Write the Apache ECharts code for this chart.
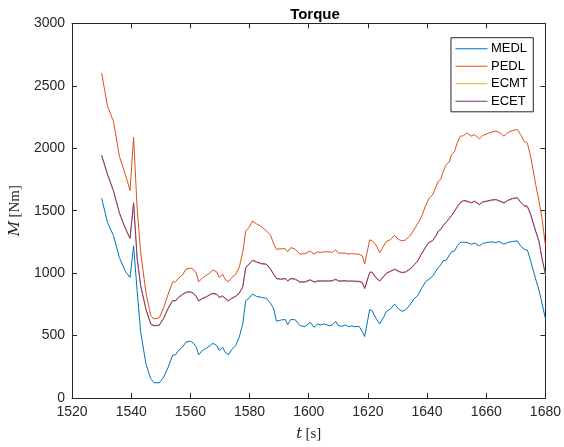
<!DOCTYPE html>
<html><head><meta charset="utf-8">
<script src="https://cdn.jsdelivr.net/npm/echarts@6/dist/echarts.min.js"></script>
<style>html,body{margin:0;padding:0;background:#fff}#c{width:564px;height:447px}</style>
</head><body><div id="c"></div>
<script>
const time = [1530,1532,1534,1536,1538,1539.6,1540.8,1542,1543.2,1545,1546.6,1547.7,1549.5,1551,1552.5,1554,1555,1556,1557.3,1558.5,1560,1561,1562,1562.8,1564,1565.5,1566.7,1567.6,1568.9,1569.8,1570.9,1571.7,1572.8,1574,1575.3,1576.5,1577.7,1578.7,1579.8,1581,1582.3,1584,1585.7,1587.1,1588.2,1589.1,1590.7,1592.1,1592.9,1594,1595.5,1597,1598.7,1600.5,1601.8,1603,1604,1605.2,1606.9,1608,1609.1,1610,1611.2,1612.3,1613.4,1614.5,1615.7,1617,1618.1,1618.9,1620.6,1621.4,1622.7,1624,1625.3,1626.2,1627.6,1629,1630.2,1631.5,1632.7,1634.2,1635.5,1636.8,1638,1639.5,1640.7,1641.8,1643,1643.8,1644.6,1645.4,1646.5,1647.5,1648.3,1649.3,1650.2,1651.2,1652.3,1653.5,1655,1656,1657.7,1658.8,1660.2,1661.6,1663.2,1664.3,1666,1667.2,1668.8,1670.5,1671.6,1672.8,1673.9,1675,1676.7,1677.8,1678.9,1680];
const medl = [1600,1404,1300,1125,1015,965,1218,860,527,270,154,122,122,168,247,343,346,380,407,447,455,440,407,346,380,399,420,438,420,380,407,367,346,388,420,487,593,779,798,832,814,806,798,758,713,614,625,628,587,630,625,580,571,606,566,593,585,593,579,585,614,579,574,585,571,577,571,574,531,492,707,700,639,593,646,691,713,752,718,694,705,745,792,819,872,930,952,973,1018,1045,1064,1098,1104,1144,1170,1178,1218,1245,1248,1245,1231,1240,1218,1237,1245,1250,1245,1253,1231,1245,1253,1258,1218,1191,1184,1098,952,866,752,635];
const pedl = [2600,2335,2215,1936,1790,1662,2088,1520,1165,840,659,633,643,726,832,928,930,960,984,1032,1040,1030,1000,930,960,984,1005,1024,1010,965,992,952,930,965,990,1045,1165,1337,1364,1417,1395,1372,1337,1303,1231,1191,1195,1195,1170,1205,1190,1152,1155,1178,1152,1170,1165,1170,1170,1165,1186,1160,1160,1160,1152,1157,1152,1152,1138,1072,1266,1260,1225,1165,1218,1252,1268,1303,1271,1258,1265,1298,1345,1395,1444,1540,1600,1625,1690,1736,1750,1810,1870,1890,1950,1976,2043,2096,2100,2123,2096,2109,2075,2101,2115,2128,2136,2128,2096,2123,2141,2149,2110,2055,2040,1936,1710,1580,1431,1218];
const ecmt = [1940,1785,1655,1479,1355,1274,1558,1115,894,705,588,575,580,635,715,775,775,801,825,843,846,835,809,774,793,807,825,833,827,801,814,795,774,795,810,835,885,1040,1067,1099,1086,1072,1067,1027,985,953,947,953,933,953,947,925,925,942,925,933,933,933,933,935,947,933,933,935,931,933,930,930,920,873,1000,1005,960,933,968,995,1010,1027,1013,1000,1005,1027,1060,1093,1145,1205,1243,1255,1295,1332,1346,1375,1405,1435,1458,1492,1527,1560,1577,1572,1559,1572,1545,1566,1572,1580,1585,1575,1559,1577,1593,1599,1565,1535,1530,1466,1332,1253,1107,987];
const ecet = [1945,1790,1660,1484,1360,1279,1564,1120,899,710,593,580,585,640,720,780,780,806,830,848,851,840,814,779,798,812,830,838,832,806,819,800,779,800,815,840,890,1045,1072,1104,1091,1077,1072,1032,990,958,952,958,938,958,952,930,930,947,930,938,938,938,938,940,952,938,938,940,936,938,935,935,925,878,1005,1010,965,938,973,1000,1015,1032,1018,1005,1010,1032,1065,1098,1150,1210,1248,1260,1300,1337,1351,1380,1410,1440,1463,1497,1532,1565,1582,1577,1564,1577,1550,1571,1577,1585,1590,1580,1564,1582,1598,1604,1570,1540,1535,1471,1337,1258,1112,992];
const names = ['MEDL','PEDL','ECMT','ECET'];
const colors = ['#0072BD','#D95319','#EDB120','#7E2F8E'];
const xTicks = [1520,1540,1560,1580,1600,1620,1640,1660,1680];
const yTicks = [0,500,1000,1500,2000,2500,3000];

const vals = [medl, pedl, ecmt, ecet];
const axisCol = '#262626';
const font = '"Liberation Sans", Arial, sans-serif';
const chart = echarts.init(document.getElementById('c'));
const baseAxis = {
  axisLine: {show: true, onZero: false, lineStyle: {color: axisCol, width: 1}},
  axisTick: {show: true, inside: true, length: 5, lineStyle: {color: axisCol}},
  splitLine: {show: false}
};
const fmt = v => String(v);
const nameRich = {
  i: {fontFamily: '"DejaVu Serif","Liberation Serif",serif', fontStyle: 'italic', fontSize: 15, color: axisCol},
  n: {fontFamily: '"Liberation Serif",serif', fontStyle: 'normal', fontSize: 15, color: axisCol}
};
chart.setOption({
  animation: false,
  backgroundColor: '#fff',
  title: {text: 'Torque', left: 310, top: 2, textAlign: 'center',
    textStyle: {fontFamily: font, fontSize: 15, fontWeight: 'bold', color: '#000'}},
  legend: {
    orient: 'vertical', right: 30.7, top: 37.7,
    data: names.map((n, k) => ({name: n, itemStyle: {color: colors[k], borderWidth: 0}})),
    backgroundColor: '#fff', borderColor: axisCol, borderWidth: 1,
    padding: [4.6, 5.5, 4, 4.5], itemGap: 4.5, itemWidth: 32, itemHeight: 14,
    icon: 'path://M0,7 L32,7 L32,8 L0,8 Z',
    textStyle: {fontFamily: font, fontSize: 13, color: '#000', padding: [0,0,0,-1.5]}
  },
  grid: {left: 70.7, right: 15.7, top: 23.3, bottom: 47.7},
  xAxis: [
    Object.assign({}, baseAxis, {type: 'value', min: 1520, max: 1680, interval: 20,
      name: '{i|t} {n|[s]}', nameLocation: 'middle', nameGap: 29,
      nameTextStyle: {rich: nameRich},
      axisLabel: {fontFamily: font, fontSize: 14, color: axisCol, margin: 7, formatter: fmt}}),
    Object.assign({}, baseAxis, {type: 'value', min: 1520, max: 1680, interval: 20, position: 'top',
      axisLabel: {show: false}})
  ],
  yAxis: [
    Object.assign({}, baseAxis, {type: 'value', min: 0, max: 3000, interval: 500,
      name: '{i|M} {n|[Nm]}', nameLocation: 'middle', nameGap: 41, nameRotate: 90,
      nameTextStyle: {rich: nameRich},
      axisLabel: {fontFamily: font, fontSize: 14, color: axisCol, margin: 7, formatter: fmt}}),
    Object.assign({}, baseAxis, {type: 'value', min: 0, max: 3000, interval: 500, position: 'right',
      axisLabel: {show: false}})
  ],
  series: names.map((n, k) => ({
    name: n, type: 'line', showSymbol: false, symbol: 'none',
    color: colors[k],
    itemStyle: {color: colors[k]},
    lineStyle: {width: 1, color: colors[k]},
    data: time.map((t, i) => [t, vals[k][i]]),
    z: k === 2 ? 2 : (k === 3 ? 3 : 4)
  }))
});
</script></body></html>
